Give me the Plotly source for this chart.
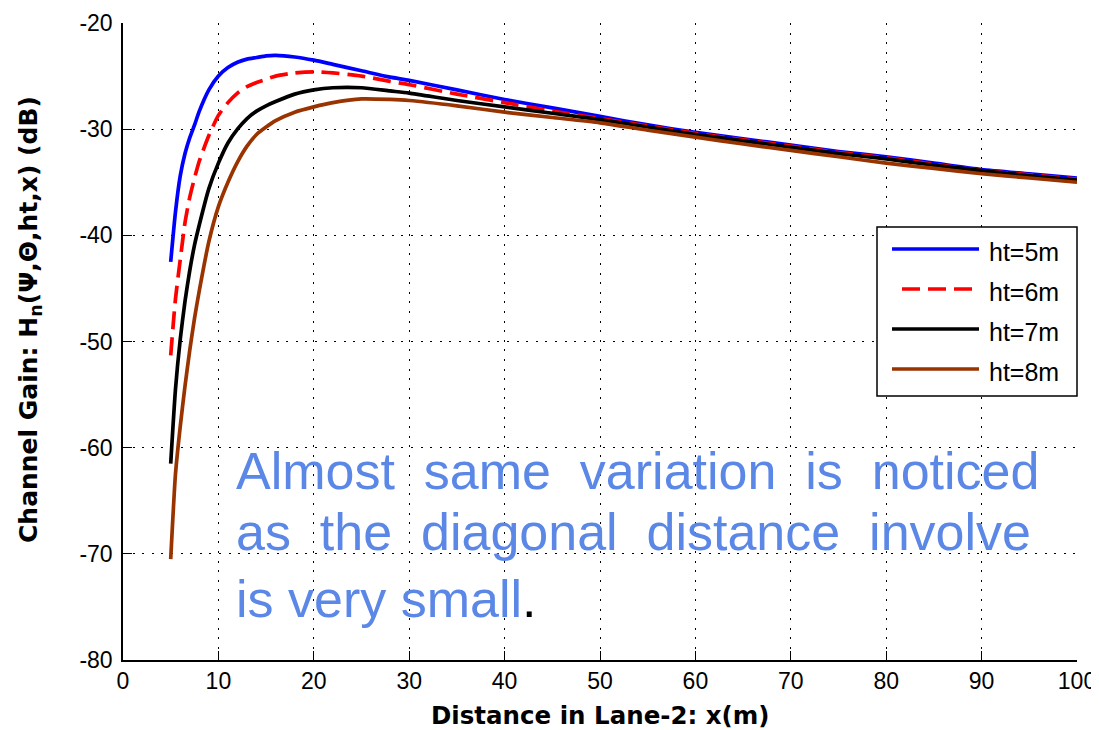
import plotly.graph_objects as go

# ---- data ----
x_m = [5, 5.5, 6, 6.5, 7, 7.5, 8, 9, 10, 11, 12, 13, 14, 15, 16, 18, 20, 22, 25, 28,
       30, 35, 40, 45, 50, 55, 60, 65, 70, 75, 80, 85, 90, 95, 100]

gain_ht5 = [-42.5, -37.8, -34.4, -32.3, -30.8, -29.6, -28.3, -26.3, -25.0, -24.2, -23.7,
            -23.4, -23.25, -23.1, -23.05, -23.2, -23.5, -23.9, -24.5, -25.1,
            -25.4, -26.3, -27.2, -28.0, -28.8, -29.6, -30.3, -30.9, -31.5, -32.1,
            -32.6, -33.2, -33.8, -34.2, -34.6]

gain_ht6 = [-51.3, -46.0, -42.3, -38.8, -36.4, -34.6, -33.0, -30.6, -28.7, -27.5, -26.6,
            -26.0, -25.6, -25.3, -25.0, -24.7, -24.6, -24.7, -25.0, -25.5,
            -25.8, -26.7, -27.5, -28.3, -29.0, -29.7, -30.4, -31.0, -31.6, -32.2,
            -32.7, -33.3, -33.9, -34.3, -34.7]

gain_ht7 = [-61.5, -54.5, -49.8, -46.2, -43.3, -40.9, -39.0, -35.6, -33.2, -31.3, -30.0,
            -29.0, -28.3, -27.8, -27.4, -26.7, -26.3, -26.1, -26.1, -26.4,
            -26.6, -27.3, -27.9, -28.5, -29.1, -29.8, -30.5, -31.1, -31.7, -32.3,
            -32.8, -33.4, -33.9, -34.4, -34.8]

gain_ht8 = [-70.5, -62.5, -58.0, -54.2, -50.8, -47.8, -45.2, -40.6, -37.3, -35.0, -33.1,
            -31.6, -30.5, -29.8, -29.2, -28.4, -27.9, -27.5, -27.15, -27.2,
            -27.3, -27.8, -28.4, -28.9, -29.4, -30.1, -30.75, -31.4, -32.0, -32.6,
            -33.2, -33.7, -34.2, -34.6, -35.0]

series_names = ["ht=5m", "ht=6m", "ht=7m", "ht=8m"]
series_values = [gain_ht5, gain_ht6, gain_ht7, gain_ht8]
series_colors = ["#0000FF", "#FF0000", "#000000", "#993300"]
series_dash = ["solid", "18px,8px", "solid", "solid"]

x_ticks = [0, 10, 20, 30, 40, 50, 60, 70, 80, 90, 100]
y_ticks = [-80, -70, -60, -50, -40, -30, -20]

note_lines = [
    "Almost&nbsp; same&nbsp; variation&nbsp; is&nbsp; noticed",
    "as&nbsp; the&nbsp; diagonal&nbsp; distance&nbsp; involve",
    "is very small<span style='color:black'>.</span>",
]
note_y = [-62.2, -67.9, -74.25]

# ---- layout constants (pixels; the page body adds an 8px offset) ----
OFF = 8
W, H = 1099 - OFF, 730 - OFF
L, T = 123 - OFF, 23 - OFF
PW, PH = 954, 637
R, B = W - L - PW, H - T - PH


def px(xp):
    # screenshot x pixel -> paper fraction
    return (xp - OFF - L) / PW


def py(yp):
    # screenshot y pixel -> paper fraction
    return 1 - (yp - OFF - T) / PH


FONT = "Liberation Sans, Arial, sans-serif"
grid_dash = "2px,7.6px"

# ---- figure ----
fig = go.Figure()
for i, (name, vals) in enumerate(zip(series_names, series_values)):
    fig.add_trace(go.Scatter(
        x=x_m, y=vals, mode="lines", name=name, showlegend=False,
        line=dict(color=series_colors[i], width=3.7, dash=series_dash[i],
                  shape="spline", smoothing=0.6),
    ))

fig.update_layout(
    width=W, height=H,
    margin=dict(l=L, r=R, t=T, b=B),
    paper_bgcolor="white", plot_bgcolor="white",
    font=dict(family=FONT, color="black", size=21),
    showlegend=False,
)

fig.update_xaxes(
    range=[0, 100], tickvals=x_ticks, ticktext=[str(v) for v in x_ticks],
    showline=True, linecolor="black", linewidth=1.5, mirror=False,
    ticks="inside", ticklen=9, tickwidth=1.3, tickcolor="black",
    showgrid=True, gridcolor="black", gridwidth=1, griddash=grid_dash,
    zeroline=False, automargin=False,
    tickfont=dict(family=FONT, size=23, color="black"),
)
fig.update_yaxes(
    range=[-80, -20], tickvals=y_ticks, ticktext=[str(v) for v in y_ticks],
    showline=True, linecolor="black", linewidth=1.5, mirror=False,
    ticks="inside", ticklen=9, tickwidth=1.3, tickcolor="black",
    showgrid=True, gridcolor="black", gridwidth=1, griddash=grid_dash,
    zeroline=False, automargin=False, ticklabelstandoff=4,
    tickfont=dict(family=FONT, size=23, color="black"),
)

# axis titles
fig.add_annotation(
    x=px(600), y=py(716), xref="paper", yref="paper",
    xanchor="center", yanchor="middle", showarrow=False,
    text="<b>Distance in Lane-2: x(m)</b>",
    font=dict(family="DejaVu Sans, sans-serif", size=24.5, color="black"),
)
fig.add_annotation(
    x=px(30), y=py(320), xref="paper", yref="paper",
    xanchor="center", yanchor="middle", showarrow=False, textangle=-90,
    text="<b>Channel Gain: H<sub>n</sub>(\u03a8,\u0398,ht,x) (dB)</b>",
    font=dict(family="DejaVu Sans, sans-serif", size=25, color="black"),
)

# in-plot note
for txt, yy in zip(note_lines, note_y):
    fig.add_annotation(
        x=11.63, y=yy, xref="x", yref="y", xanchor="left", yanchor="middle",
        text=txt, showarrow=False, align="left",
        font=dict(family=FONT, size=52, color="#5B87E6"),
    )

# legend box (drawn manually to match the reference proportions)
fig.add_shape(type="rect", xref="paper", yref="paper",
              x0=px(877), x1=px(1077), y0=py(396), y1=py(227),
              line=dict(color="black", width=1.5), fillcolor="white", layer="above")
leg_rows = [249, 289, 329, 369]
for i, name in enumerate(series_names):
    yy = py(leg_rows[i])
    x_start = 902 if series_dash[i] != "solid" else 892
    fig.add_shape(type="line", xref="paper", yref="paper",
                  x0=px(x_start), x1=px(979), y0=yy, y1=yy, layer="above",
                  line=dict(color=series_colors[i], width=3.7, dash=series_dash[i]))
    fig.add_annotation(
        x=px(987), y=py(leg_rows[i] + 3), xref="paper", yref="paper", xanchor="left",
        yanchor="middle", showarrow=False, text=name,
        font=dict(family=FONT, size=25, color="black"),
    )

fig.write_html("out.html")
